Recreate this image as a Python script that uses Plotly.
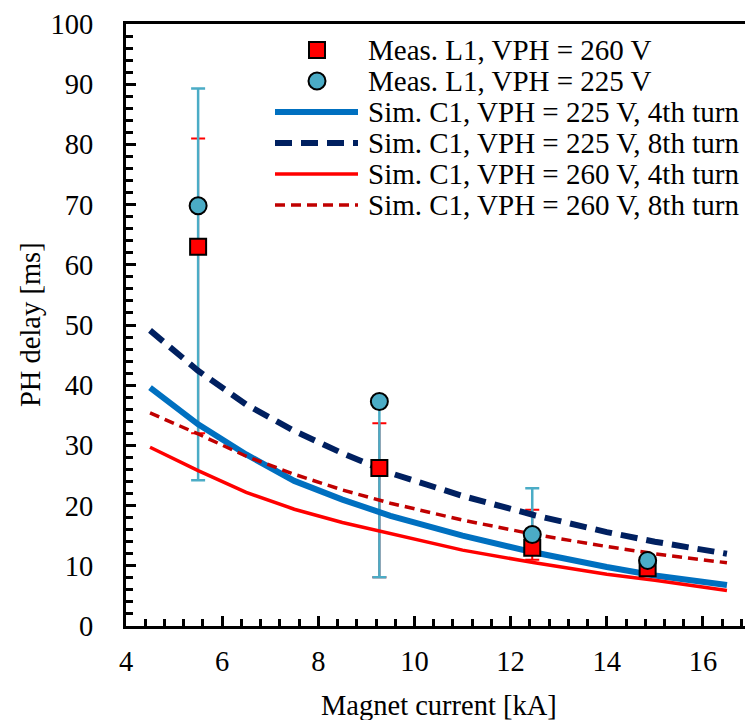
import plotly.graph_objects as go

# ---------------- data ----------------
sim_x = [4.5, 5.5, 6.5, 7.5, 8.5, 9.5, 11.0, 12.5, 14.0, 15.0, 16.5]
sim_225_4th = [39.6, 33.5, 28.5, 24.1, 21.0, 18.3, 15.0, 12.2, 9.8, 8.4, 6.8]
sim_225_8th = [49.1, 42.4, 36.8, 32.4, 28.7, 25.4, 21.6, 18.4, 15.6, 14.0, 12.0]
sim_260_4th = [29.7, 25.8, 22.2, 19.4, 17.2, 15.3, 12.6, 10.5, 8.6, 7.6, 5.9]
sim_260_8th = [35.4, 31.9, 28.2, 25.2, 22.6, 20.4, 17.6, 15.2, 13.2, 12.0, 10.5]

meas_x = [5.5, 9.27, 12.45, 14.85]
meas_260 = [63.0, 26.25, 13.0, 9.6]
meas_260_err_plus = [18.0, 7.45, 6.3, 0.0]
meas_260_err_minus = [31.0, 18.15, 2.0, 0.0]
meas_225 = [69.8, 37.3, 15.2, 10.9]
meas_225_err_plus = [19.5, 0.0, 7.7, 0.0]
meas_225_err_minus = [45.6, 29.2, 2.5, 0.0]

x_ticks = [4, 6, 8, 10, 12, 14, 16]
y_ticks = [0, 10, 20, 30, 40, 50, 60, 70, 80, 90, 100]

x_title = "Magnet current [kA]"
y_title = "PH delay [ms]"
legend_labels = [
    "Meas. L1, VPH = 260 V",
    "Meas. L1, VPH = 225 V",
    "Sim. C1, VPH = 225 V, 4th turn",
    "Sim. C1, VPH = 225 V, 8th turn",
    "Sim. C1, VPH = 260 V, 4th turn",
    "Sim. C1, VPH = 260 V, 8th turn",
]

# ---------------- styles ----------------
FONT = "Liberation Serif"
FS = 28.5
FS_LEG = 29
C_BLUE = "#0070C0"
C_NAVY = "#002060"
C_RED = "#FF0000"
C_DRED = "#C00000"
C_CYAN = "#4BACC6"

line_styles = [
    dict(color=C_BLUE, width=6, dash="solid"),
    dict(color=C_NAVY, width=6, dash="17px,9px"),
    dict(color=C_RED, width=3.5, dash="solid"),
    dict(color=C_DRED, width=3.5, dash="10px,6px"),
]
sim_series = [sim_225_4th, sim_225_8th, sim_260_4th, sim_260_8th]

fig = go.Figure()

# error bars first (below lines and markers)
fig.add_trace(go.Scatter(
    x=meas_x, y=meas_260, mode="markers",
    marker=dict(size=1, color="rgba(0,0,0,0)"),
    error_y=dict(type="data", symmetric=False, array=meas_260_err_plus,
                 arrayminus=meas_260_err_minus, color=C_RED, thickness=2, width=7),
    showlegend=False, hoverinfo="skip"))
fig.add_trace(go.Scatter(
    x=meas_x, y=meas_225, mode="markers",
    marker=dict(size=1, color="rgba(0,0,0,0)"),
    error_y=dict(type="data", symmetric=False, array=meas_225_err_plus,
                 arrayminus=meas_225_err_minus, color=C_CYAN, thickness=2.5, width=7),
    showlegend=False, hoverinfo="skip"))

# simulation lines
for ys, st, lab in zip(sim_series, line_styles, legend_labels[2:]):
    fig.add_trace(go.Scatter(x=sim_x, y=ys, mode="lines", line=st, name=lab,
                             showlegend=False))

# measured markers
fig.add_trace(go.Scatter(
    x=meas_x, y=meas_260, mode="markers", name=legend_labels[0],
    marker=dict(symbol="square", size=16, color=C_RED,
                line=dict(color="black", width=2)), showlegend=False))
fig.add_trace(go.Scatter(
    x=meas_x, y=meas_225, mode="markers", name=legend_labels[1],
    marker=dict(symbol="circle", size=17, color=C_CYAN,
                line=dict(color="black", width=2)), showlegend=False))

# ---------------- layout geometry ----------------
PAGE_OFF = 8            # default body margin of the html page
W, H = 745, 712
ML, MR, MT, MB = 118, 2, 16, 94
pw = W - ML - MR
ph = H - MT - MB


def px2paper(px, py):
    """page pixel -> paper coords"""
    fx, fy = px - PAGE_OFF, py - PAGE_OFF
    return (fx - ML) / pw, (H - MB - fy) / ph


row_y = [50, 81, 112, 143, 174, 205]
sym_x0, sym_x1, sym_xc, text_x = 275, 358, 317, 366
shapes = []
annotations = []
for i, (lab, ry) in enumerate(zip(legend_labels, row_y)):
    tx, ty = px2paper(text_x, ry)
    annotations.append(dict(text=lab, x=tx, y=ty, xref="paper", yref="paper",
                            xanchor="left", yanchor="middle", showarrow=False,
                            font=dict(family=FONT, size=FS_LEG, color="black")))
    if i == 0:
        cx, cy = px2paper(sym_xc, ry)
        shapes.append(dict(type="rect", xref="paper", yref="paper",
                           xsizemode="pixel", ysizemode="pixel",
                           xanchor=cx, yanchor=cy, x0=-8, x1=8, y0=-8, y1=8,
                           fillcolor=C_RED, line=dict(color="black", width=2)))
    elif i == 1:
        cx, cy = px2paper(sym_xc, ry)
        shapes.append(dict(type="circle", xref="paper", yref="paper",
                           xsizemode="pixel", ysizemode="pixel",
                           xanchor=cx, yanchor=cy, x0=-8.5, x1=8.5, y0=-8.5, y1=8.5,
                           fillcolor=C_CYAN, line=dict(color="black", width=2)))
    else:
        st = line_styles[i - 2]
        x0, y0 = px2paper(sym_x0, ry)
        x1, _ = px2paper(sym_x1, ry)
        shapes.append(dict(type="line", xref="paper", yref="paper",
                           x0=x0, x1=x1, y0=y0, y1=y0,
                           line=dict(color=st["color"], width=st["width"],
                                     dash=st["dash"])))

# axis titles as annotations
annotations.append(dict(text=x_title, x=0.5, y=0, xref="paper", yref="paper",
                        xanchor="center", yanchor="middle", yshift=-79,
                        showarrow=False,
                        font=dict(family=FONT, size=FS, color="black")))
annotations.append(dict(text=y_title, x=0, y=0.5, xref="paper", yref="paper",
                        xanchor="center", yanchor="middle", xshift=-96,
                        textangle=-90, showarrow=False,
                        font=dict(family=FONT, size=FS, color="black")))

axis_common = dict(
    showgrid=False, zeroline=False, showline=True, linecolor="black",
    linewidth=3, mirror=True, ticks="inside", tickcolor="black",
    tickwidth=2.5, ticklen=10, automargin=False, ticklabeloverflow="allow",
    tickfont=dict(family=FONT, size=FS, color="black"),
)

fig.update_layout(
    width=W, height=H,
    margin=dict(l=ML, r=MR, t=MT, b=MB),
    paper_bgcolor="white", plot_bgcolor="white",
    showlegend=False,
    shapes=shapes, annotations=annotations,
    xaxis=dict(**axis_common, range=[4, 17], tickmode="array",
               tickvals=x_ticks, ticktext=[str(v) for v in x_ticks],
               ticklabelstandoff=8,
               minor=dict(ticks="inside", ticklen=7, tickwidth=2.5,
                          tickcolor="black", dtick=0.4, tick0=4)),
    yaxis=dict(**axis_common, range=[0, 100], tickmode="array",
               tickvals=y_ticks, ticktext=[str(v) for v in y_ticks],
               ticklabelstandoff=24,
               minor=dict(ticks="inside", ticklen=7, tickwidth=2.5,
                          tickcolor="black", dtick=2, tick0=0)),
)

fig.write_html("out.html")
